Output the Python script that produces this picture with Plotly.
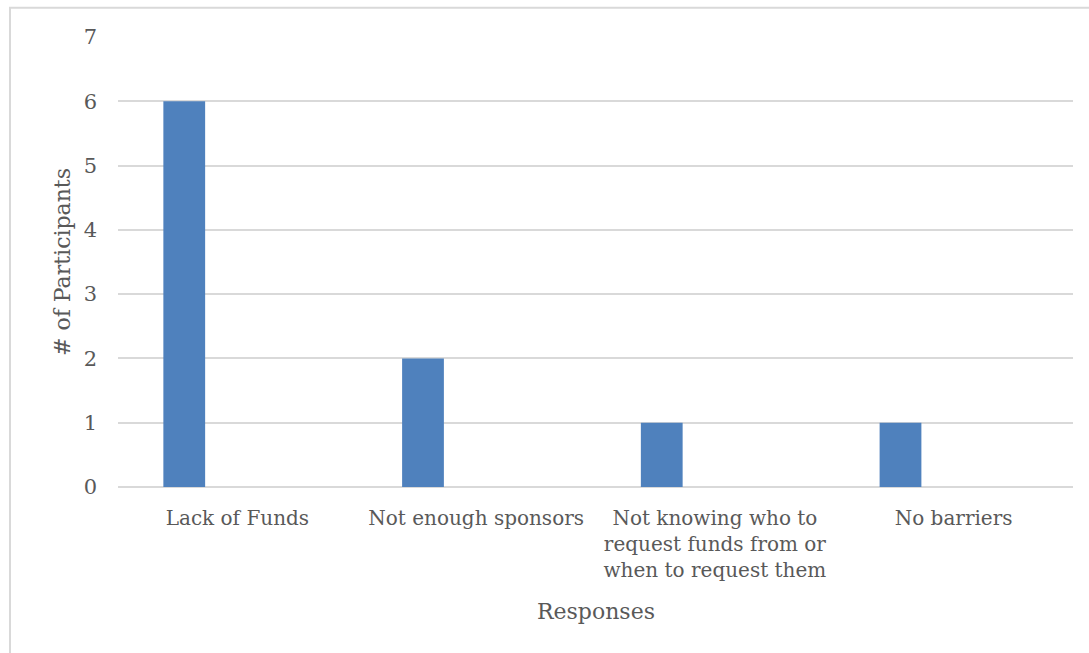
import plotly.graph_objects as go

# Survey responses: barriers to obtaining funding
categories = [
    "Lack of Funds",
    "Not enough sponsors",
    "Not knowing who to<br>request funds from or<br>when to request them",
    "No barriers",
]
participants = [6, 2, 1, 1]
y_ticks = [0, 1, 2, 3, 4, 5, 6, 7]

TEXT = "#595959"
GRID = "#d9d9d9"
BAR = "#4f81bd"
FONT = "DejaVu Serif"

fig = go.Figure(
    go.Bar(
        x=categories,
        y=participants,
        marker=dict(color=BAR, line=dict(width=0)),
        width=0.175,
        offset=-0.31,
        hoverinfo="x+y",
    )
)

fig.update_layout(
    width=1089,
    height=653,
    margin=dict(l=118, r=16, t=37, b=166),
    paper_bgcolor="white",
    plot_bgcolor="white",
    showlegend=False,
    font=dict(family=FONT, color=TEXT, size=20),
    xaxis=dict(
        showgrid=False,
        showline=False,
        zeroline=False,
        ticks="",
        ticklabelstandoff=17,
        tickfont=dict(family=FONT, color=TEXT, size=20),
    ),
    yaxis=dict(
        range=[0, 7],
        tickvals=y_ticks,
        showgrid=True,
        gridcolor=GRID,
        gridwidth=2,
        zeroline=True,
        zerolinecolor=GRID,
        zerolinewidth=2,
        showline=False,
        ticks="",
        ticklabelstandoff=20,
        tickfont=dict(family=FONT, color=TEXT, size=21),
    ),
    annotations=[
        dict(
            text="Responses",
            xref="paper", yref="paper",
            x=0.5, y=(487 - 611) / 449.2,
            xanchor="center", yanchor="middle",
            showarrow=False,
            font=dict(family=FONT, color=TEXT, size=22),
        ),
        dict(
            text="# of Participants",
            xref="paper", yref="paper",
            x=(62 - 118) / 955, y=0.5,
            xanchor="center", yanchor="middle",
            textangle=-90,
            showarrow=False,
            font=dict(family=FONT, color=TEXT, size=22),
        ),
    ],
    shapes=[
        # outer frame of the chart area
        dict(
            type="rect",
            xref="paper", yref="paper",
            x0=(10 - 118) / 955, x1=1.2,
            y0=-0.6, y1=(487 - 8.5) / 449.2,
            line=dict(color=GRID, width=2),
            fillcolor="rgba(0,0,0,0)",
            layer="below",
        )
    ],
)

fig.write_html("out.html")
